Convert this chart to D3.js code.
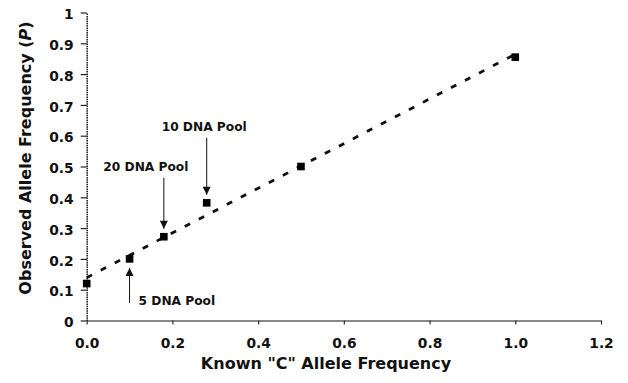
<!DOCTYPE html>
<html>
<head>
<meta charset="utf-8">
<script src="https://cdn.jsdelivr.net/npm/d3@7"></script>
<style>
  body { margin: 0; background: #fff; }
  svg text { font-family: 'DejaVu Sans', sans-serif; font-weight: bold; fill: #111; }
</style>
</head>
<body>
<div class="graph"><svg></svg></div>
<script>
// known "C" allele frequency (x) and observed allele frequency P (y)
const knownFreq = [0, 0.1, 0.18, 0.28, 0.5, 1.0]
const observedFreq = [0.12, 0.2, 0.272, 0.382, 0.5, 0.855]

const xTicks = [0, 0.2, 0.4, 0.6, 0.8, 1.0, 1.2]
const yTicks = [0, 0.1, 0.2, 0.3, 0.4, 0.5, 0.6, 0.7, 0.8, 0.9, 1]

// annotated pools: index of the point, label, arrow direction
const poolLabels = ['5 DNA Pool', '20 DNA Pool', '10 DNA Pool']
const poolIndex = [1, 2, 3]
const poolSide = ['below', 'above', 'above']

const width = 628
const height = 383
const margin = { top: 12.5, right: 27, bottom: 62.5, left: 86.7 }

const svg = d3.select('.graph').select('svg')
  .attr('width', width)
  .attr('height', height)

const g = svg.append('g')
  .attr('transform', 'translate(' + margin.left + ',' + margin.top + ')')

const innerW = width - margin.left - margin.right
const innerH = height - margin.top - margin.bottom

const x = d3.scaleLinear().domain([0, 1.2]).range([0, innerW])
const y = d3.scaleLinear().domain([0, 1]).range([innerH, 0])

// axes
const xAxis = g.append('g')
  .attr('class', 'x axis')
  .attr('transform', 'translate(0,' + innerH + ')')
  .call(d3.axisBottom(x).tickValues(xTicks).tickFormat(d3.format('.1f')).tickSize(4).tickSizeOuter(0))
xAxis.select('.domain').attr('stroke', '#888').attr('stroke-width', 2)
xAxis.selectAll('.tick line').attr('stroke', '#333').attr('stroke-width', 1.2)
xAxis.selectAll('.tick text').attr('font-size', 13.8).attr('y', 27).attr('dy', 0)

const yAxis = g.append('g')
  .attr('class', 'y axis')
  .call(d3.axisLeft(y).tickValues(yTicks).tickFormat(d => String(d)).tickSize(6).tickSizeOuter(0))
yAxis.select('.domain').attr('stroke', '#222').attr('stroke-width', 1.6).attr('stroke-dasharray', '1.5,0.8')
yAxis.selectAll('.tick line').attr('stroke', '#222').attr('stroke-width', 1.2)
yAxis.selectAll('.tick text').attr('font-size', 13.8).attr('x', -13).attr('dy', '0.45em')

// axis titles
svg.append('text')
  .attr('x', 326)
  .attr('y', 369)
  .attr('text-anchor', 'middle')
  .attr('font-size', 16)
  .text('Known "C" Allele Frequency')

const yTitle = svg.append('text')
  .attr('transform', 'translate(31,158) rotate(-90)')
  .attr('text-anchor', 'middle')
  .attr('font-size', 16)
yTitle.append('tspan').text('Observed Allele Frequency (')
yTitle.append('tspan').attr('font-style', 'italic').text('P')
yTitle.append('tspan').text(')')

// least-squares trend line
const n = knownFreq.length
const mx = d3.mean(knownFreq)
const my = d3.mean(observedFreq)
const sxy = d3.sum(knownFreq, (v, i) => (v - mx) * (observedFreq[i] - my))
const sxx = d3.sum(knownFreq, v => (v - mx) * (v - mx))
const slope = sxy / sxx
const intercept = my - slope * mx

g.append('line')
  .attr('x1', x(0)).attr('y1', y(intercept))
  .attr('x2', x(1)).attr('y2', y(intercept + slope))
  .attr('stroke', '#111')
  .attr('stroke-width', 2.8)
  .attr('stroke-dasharray', '6,9.8')

// points
const pts = d3.range(n).map(i => ({ x: knownFreq[i], y: observedFreq[i] }))
g.selectAll('rect.pt')
  .data(pts)
  .enter().append('rect')
  .attr('class', 'pt')
  .attr('x', d => x(d.x) - 3.8)
  .attr('y', d => y(d.y) - 3.8)
  .attr('width', 7.6)
  .attr('height', 7.6)
  .attr('fill', '#000')

// arrow head
svg.append('defs').append('marker')
  .attr('id', 'arrow')
  .attr('viewBox', '0 0 10 10')
  .attr('refX', 10).attr('refY', 5)
  .attr('markerUnits', 'userSpaceOnUse')
  .attr('markerWidth', 9).attr('markerHeight', 8)
  .attr('orient', 'auto')
  .append('path')
  .attr('d', 'M0,0 L10,5 L0,10 z')
  .attr('fill', '#111')

// pool annotations
poolLabels.forEach((label, k) => {
  const d = pts[poolIndex[k]]
  const px = x(d.x)
  const py = y(d.y)
  if (poolSide[k] === 'above') {
    const len = k === 1 ? 51 : 57
    g.append('line')
      .attr('x1', px).attr('y1', py - 8 - len)
      .attr('x2', px).attr('y2', py - 8)
      .attr('stroke', '#111').attr('stroke-width', 1)
      .attr('marker-end', 'url(#arrow)')
    g.append('text')
      .attr('x', px - 18 + (k === 2 ? 15.5 : 0))
      .attr('y', py - 8 - len - 7)
      .attr('text-anchor', 'middle')
      .attr('font-size', 12.2)
      .text(label)
  } else {
    g.append('line')
      .attr('x1', px).attr('y1', py + 44)
      .attr('x2', px).attr('y2', py + 9)
      .attr('stroke', '#111').attr('stroke-width', 1)
      .attr('marker-end', 'url(#arrow)')
    g.append('text')
      .attr('x', px + 9)
      .attr('y', py + 46)
      .attr('font-size', 12.2)
      .text(label)
  }
})
</script>
</body>
</html>
